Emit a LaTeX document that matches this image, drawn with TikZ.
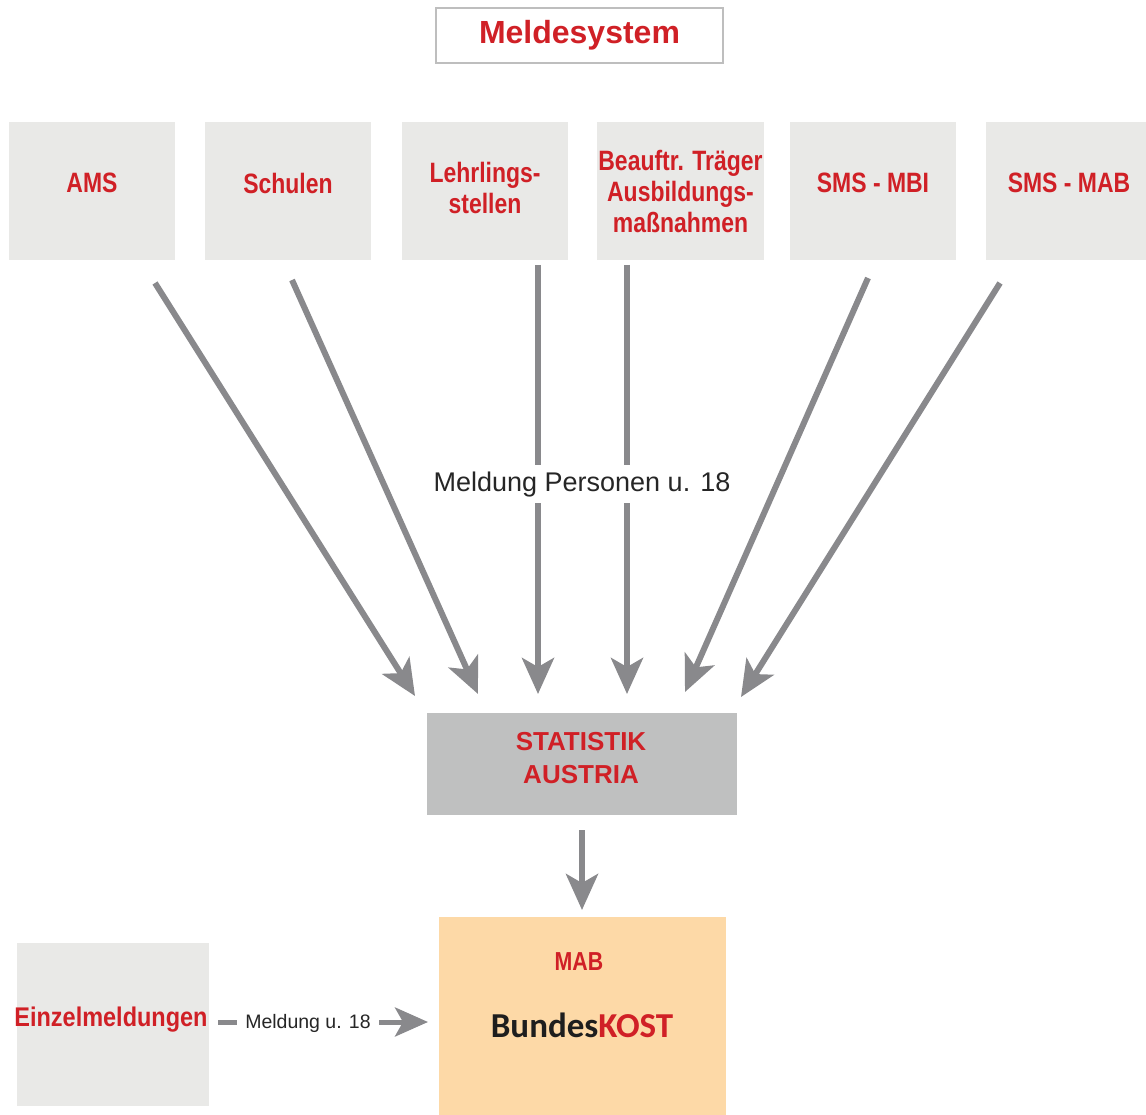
\documentclass[tikz,border=0pt]{standalone}
\usepackage{fontspec}
\setmainfont{Liberation Sans}
\newfontfamily\condfont[FakeStretch=0.82]{Liberation Sans}
\newfontfamily\condfontw[FakeStretch=0.87]{Liberation Sans}
\newfontfamily\carlfont{Carlito}
\usetikzlibrary{arrows.meta}
\definecolor{redtxt}{RGB}{208,32,38}
\definecolor{boxgray}{RGB}{233,233,231}
\definecolor{statgray}{RGB}{191,192,192}
\definecolor{peach}{RGB}{253,217,167}
\definecolor{arrowgray}{RGB}{137,137,140}
\definecolor{framegray}{RGB}{190,190,190}
\tikzset{
  topbox/.style={rectangle, fill=boxgray, draw=none, inner sep=0pt, minimum width=166pt, minimum height=138pt},
  toptext/.style={text=redtxt, align=center, inner sep=0pt, font=\condfont\bfseries\fontsize{28}{31}\selectfont},
  arr/.style={draw=arrowgray, line width=6pt, -{Stealth[length=36pt, width=32pt, inset=9pt]}},
  arrsmall/.style={draw=arrowgray, line width=5pt, -{Stealth[length=33pt, width=29pt, inset=8pt]}},
}
\begin{document}
\begin{tikzpicture}[x=1pt,y=-1pt]
\useasboundingbox (0,0) rectangle (1146,1115);
\clip (0,0) rectangle (1146,1115);

% title
\node[rectangle, draw=framegray, line width=1.5pt, fill=white, minimum width=287pt, minimum height=55pt, inner sep=0pt,
      text=redtxt, font=\bfseries\fontsize{32}{36}\selectfont] (title) at (579.5,35.5) {Meldesystem};

% top boxes
\node[topbox] (ams) at (92,191) {};
\node[topbox] (schulen) at (288,191) {};
\node[topbox] (lehrl) at (485,191) {};
\node[topbox, minimum width=167pt] (beauftr) at (680.5,191) {};
\node[topbox] (mbi) at (873,191) {};
\node[topbox] (smsmab) at (1069,191) {};

\node[toptext] (amst) at (92,183) {AMS};
\node[toptext] (schulent) at (288,183) {Schulen};
\node[toptext] (lehrlt) at (485,188) {Lehrlings-\\stellen};
\node[toptext] (beauftrt) at (680.5,191) {Beauftr. Träger\\Ausbildungs-\\maßnahmen};
\node[toptext] (mbit) at (873,183) {SMS - MBI};
\node[toptext] (smsmabt) at (1069,183) {SMS - MAB};

% Statistik Austria
\node[rectangle, fill=statgray, inner sep=0pt, minimum width=310pt, minimum height=102pt] (stat) at (582,764) {};
\node[text=redtxt, align=center, inner sep=0pt, font=\bfseries\fontsize{26}{33}\selectfont] (statt) at (581,758) {STATISTIK\\AUSTRIA};

% MAB / BundesKOST
\node[rectangle, fill=peach, inner sep=0pt, minimum width=287pt, minimum height=206pt] (kost) at (582.5,1020) {};
\node[text=redtxt, inner sep=0pt, font=\condfont\bfseries\fontsize{26}{30}\selectfont] (mabt) at (579,962) {MAB};
\node[inner sep=0pt, anchor=base, font=\carlfont\bfseries\fontsize{35}{38}\selectfont] (kostt) at (582,1037) {\textcolor[RGB]{30,30,30}{Bundes}\textcolor{redtxt}{KOST}};

% Einzelmeldungen
\node[rectangle, fill=boxgray, inner sep=0pt, minimum width=192pt, minimum height=163pt] (einz) at (113,1024.5) {};
\node[text=redtxt, inner sep=0pt, font=\condfontw\bfseries\fontsize{27}{30}\selectfont] (einzt) at (111,1020) {Einzelmeldungen};

% arrow end points
\coordinate (s1) at (155,283);  \coordinate (e1) at (415,696);
\coordinate (s2) at (292,280);  \coordinate (e2) at (478,694);
\coordinate (s3) at (538,265);  \coordinate (e3) at (538,694);
\coordinate (s4) at (627,265);  \coordinate (e4) at (627,694);
\coordinate (s5) at (868,278);  \coordinate (e5) at (685,692);
\coordinate (s6) at (1000,283); \coordinate (e6) at (741,697);
\coordinate (sd) at (582,830);  \coordinate (ed) at (582,910);
\coordinate (sl) at (218,1022); \coordinate (el) at (428,1022);

\draw[arr] (s1) -- (e1);
\draw[arr] (s2) -- (e2);
\draw[arr] (s3) -- (e3);
\draw[arr] (s4) -- (e4);
\draw[arr] (s5) -- (e5);
\draw[arr] (s6) -- (e6);
\draw[arr] (sd) -- (ed);
\draw[arrsmall] (sl) -- (el);

% labels on arrows
\node[fill=white, anchor=base, inner xsep=3pt, inner ysep=0pt, minimum height=38pt, text=black!85,
      font=\fontsize{27}{30}\selectfont] (perslab) at (582,491) {Meldung Personen u. 18};
\node[fill=white, anchor=base, inner xsep=8pt, inner ysep=2pt, text=black!85,
      font=\fontsize{19.5}{22}\selectfont] (u18lab) at (308,1028) {Meldung u. 18};
\end{tikzpicture}
\end{document}
